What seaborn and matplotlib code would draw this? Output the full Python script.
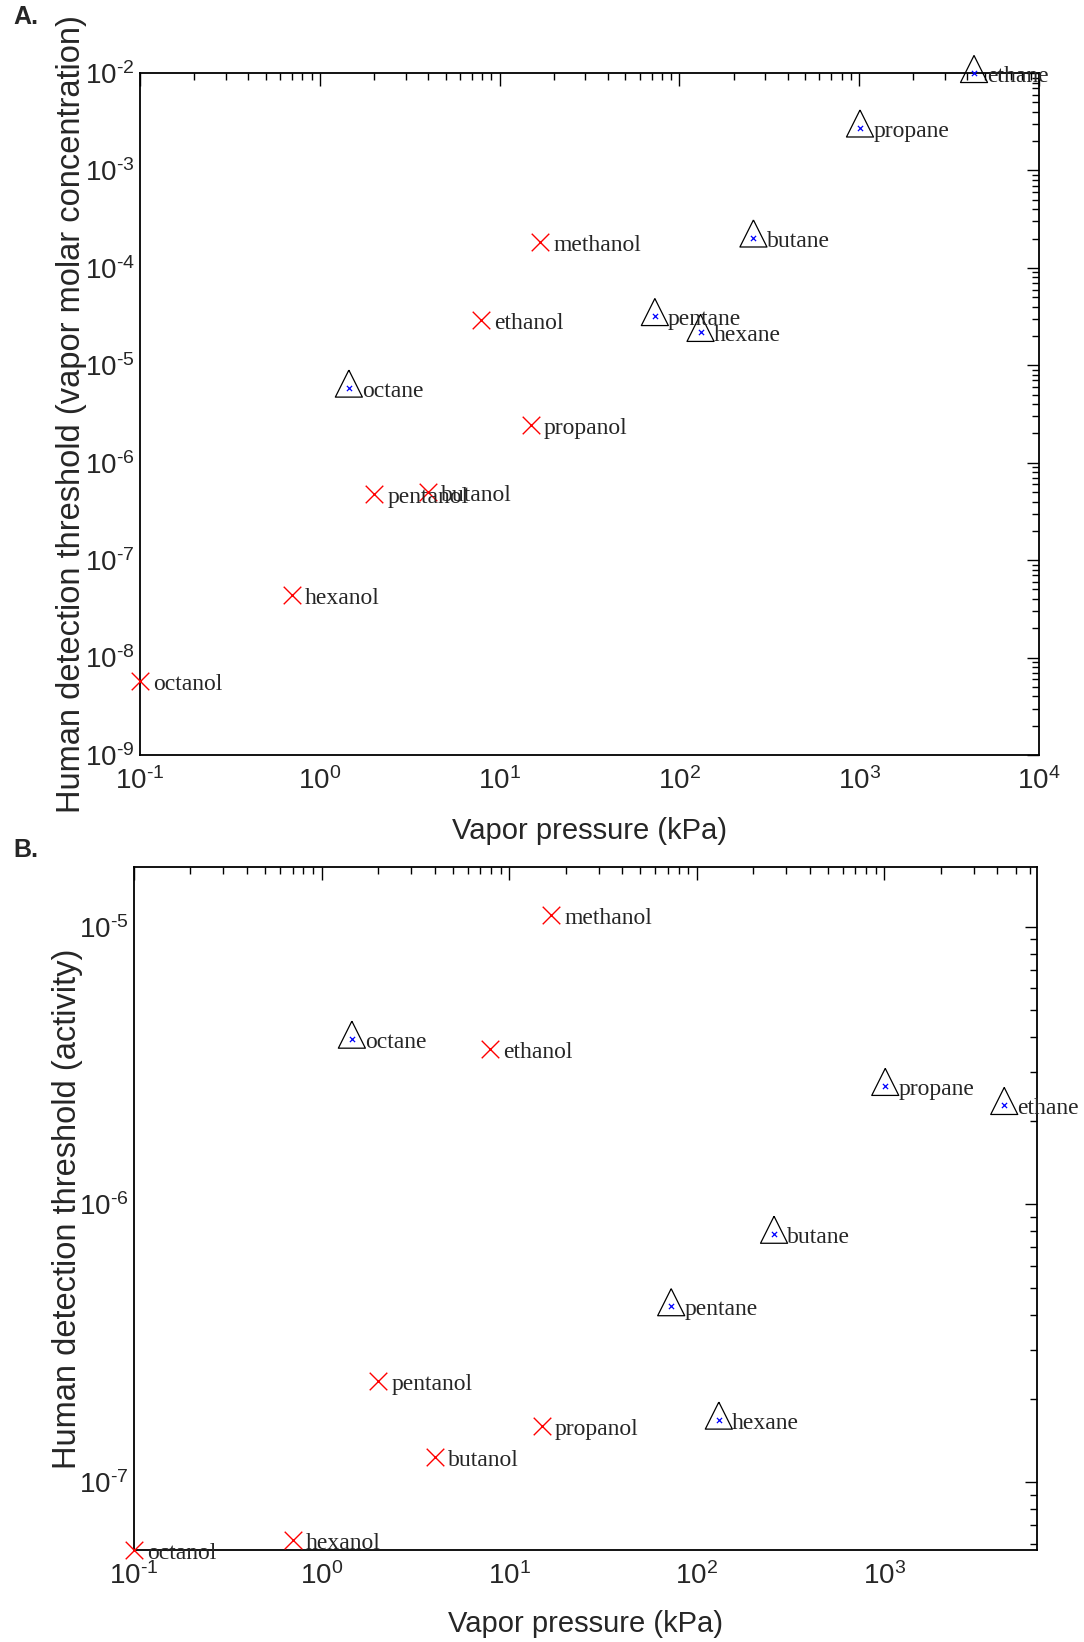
import numpy as np
import pandas as pd
import matplotlib
matplotlib.use("Agg")
import matplotlib.pyplot as plt
import seaborn as sns
from matplotlib.ticker import LogLocator, NullFormatter, FuncFormatter

# --- data ---
names = ["methanol", "ethanol", "propanol", "butanol", "pentanol", "hexanol", "octanol",
         "ethane", "propane", "butane", "pentane", "hexane", "octane"]
kind = ["alcohol"] * 7 + ["alkane"] * 6
vapor_pressure = [16.8, 7.9, 14.9, 4.0, 2.0, 0.70, 0.10,
                  4350, 1010, 258, 73, 131, 1.45]
thresh_conc = [1.86e-4, 2.9e-5, 2.44e-6, 5.0e-7, 4.75e-7, 4.4e-8, 5.7e-9,
               1.0e-2, 2.76e-3, 2.05e-4, 3.2e-5, 2.2e-5, 5.9e-6]
thresh_act = [1.1e-5, 3.62e-6, 1.6e-7, 1.23e-7, 2.32e-7, 6.2e-8, 5.7e-8,
              2.28e-6, 2.67e-6, 7.84e-7, 4.3e-7, 1.68e-7, 3.95e-6]

df = pd.DataFrame({"name": names, "kind": kind, "vp": vapor_pressure,
                   "conc": thresh_conc, "act": thresh_act})

sns.set_style("white")
plt.rcParams["font.family"] = ["Liberation Sans", "DejaVu Sans"]
plt.rcParams["mathtext.fontset"] = "custom"
plt.rcParams["mathtext.rm"] = "Liberation Sans"

# triangle with the data point near its centroid (like the matlab marker)
tri = [(0, 1.3), (-1, -0.7), (1, -0.7), (0, 1.3)]


def pow10(v, pos):
    e = int(round(np.log10(v)))
    s = str(e).replace("-", "\u2010")   # short hyphen like matlab
    return r"$\mathregular{10^{%s}}$" % s


fig = plt.figure(figsize=(10.84, 16.42), dpi=100)
axA = fig.add_axes([0.1292, 0.5402, 0.8293, 0.4153])
axB = fig.add_axes([0.1236, 0.0560, 0.8330, 0.4160])


def draw(ax, ycol, xlim, ylim, ylabel, ylab_x, xlab_y):
    ax.set_xscale("log")
    ax.set_yscale("log")
    alc = df[df["kind"] == "alcohol"]
    alk = df[df["kind"] == "alkane"]
    sns.scatterplot(data=alc, x="vp", y=ycol, marker="x", color="red", s=160,
                    linewidth=1.0, ax=ax, clip_on=False, zorder=3)
    sns.scatterplot(data=alk, x="vp", y=ycol, marker=tri, color="none",
                    edgecolor="black", s=640, linewidth=0.9, ax=ax,
                    clip_on=False, zorder=3)
    sns.scatterplot(data=alk, x="vp", y=ycol, marker="x", color="blue", s=14,
                    linewidth=0.9, ax=ax, clip_on=False, zorder=4)
    for _, r in df.iterrows():
        ax.annotate(r["name"], (r["vp"], r[ycol]), xytext=(9.5, -2.5),
                    textcoords="offset points", ha="left", va="center",
                    fontsize=17, family="Liberation Serif",
                    annotation_clip=False, zorder=5)
    ax.set_xlim(*xlim)
    ax.set_ylim(*ylim)
    for axis in (ax.xaxis, ax.yaxis):
        axis.set_major_locator(LogLocator(base=10, numticks=20))
        axis.set_minor_locator(LogLocator(base=10, subs=np.arange(2, 10), numticks=50))
        axis.set_major_formatter(FuncFormatter(pow10))
        axis.set_minor_formatter(NullFormatter())
    ax.tick_params(which="both", direction="in", top=True, right=True,
                   color="black", width=1.0)
    ax.tick_params(which="major", length=9, labelsize=20)
    ax.tick_params(which="minor", length=5)
    ax.tick_params(axis="x", which="major", pad=9)
    ax.tick_params(axis="y", which="major", pad=4)
    for sp in ax.spines.values():
        sp.set_color("black")
        sp.set_linewidth(1.3)
    ax.set_xlabel("Vapor pressure (kPa)", fontsize=21)
    ax.set_ylabel(ylabel, fontsize=23.5)
    ax.xaxis.set_label_coords(0.5, xlab_y)
    ax.yaxis.set_label_coords(ylab_x, 0.5)


draw(axA, "conc", (0.1, 1e4), (1e-9, 1e-2),
     "Human detection threshold (vapor molar concentration)", -0.059, -0.091)
draw(axB, "act", (0.1, 6500), (5.7e-8, 1.64e-5),
     "Human detection threshold (activity)", -0.057, -0.088)

fig.text(0.012, 0.997, "A.", fontsize=18, weight="bold", va="top", ha="left")
fig.text(0.012, 0.4896, "B.", fontsize=18, weight="bold", va="top", ha="left")

fig.savefig("out.png", dpi=100)
